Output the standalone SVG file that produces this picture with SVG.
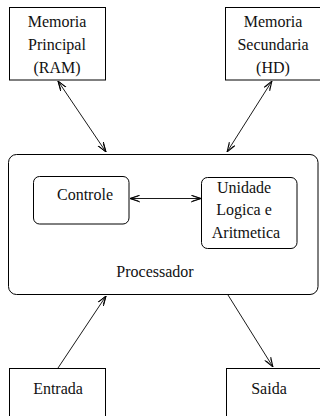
<svg xmlns="http://www.w3.org/2000/svg" width="320" height="416" viewBox="0 0 320 416" font-family="Liberation Serif, Times New Roman, DejaVu Serif, serif">
<style>
.box{fill:#fff;stroke:#000;stroke-width:1}
.t{font-size:16px;fill:#111;text-anchor:middle}
.c{stroke:#000;stroke-width:0.9;fill:none}
</style>
<defs>
<marker id="ah" viewBox="0 0 10 8" refX="10" refY="4" markerWidth="10" markerHeight="8" markerUnits="userSpaceOnUse" orient="auto-start-reverse">
<path d="M0,0.5 L10,4 L0,7.5 M1.5,1.5 L10,4 L1.5,6.5" fill="none" stroke="#000" stroke-width="0.9"/>
</marker>
</defs>
<rect width="320" height="416" fill="#fff"/>
<g id="ram"><rect class="box" x="9.5" y="7.5" width="96" height="72.5"/>
<text class="t" font-family="Liberation Serif, serif" x="57" y="27">Memoria</text><text class="t" font-family="Liberation Serif, serif" x="57" y="50">Principal</text><text class="t" font-family="Liberation Serif, serif" x="57" y="73">(RAM)</text></g>
<g id="hd"><rect class="box" x="225.5" y="7.5" width="96" height="72.5"/>
<text class="t" font-family="Liberation Serif, serif" x="273" y="27">Memoria</text><text class="t" font-family="Liberation Serif, serif" x="273" y="50">Secundaria</text><text class="t" font-family="Liberation Serif, serif" x="273" y="73">(HD)</text></g>
<g id="processador"><rect class="box" x="8.5" y="154.5" width="309.5" height="140" rx="8"/>
<text class="t" font-family="Liberation Serif, serif" x="155" y="277">Processador</text></g>
<g id="controle"><rect class="box" x="33.5" y="176.5" width="95.5" height="47.5" rx="6"/>
<text class="t" font-family="Liberation Serif, serif" x="85" y="200">Controle</text></g>
<g id="ula"><rect class="box" x="201.5" y="177.5" width="95.5" height="71" rx="6"/>
<text class="t" font-family="Liberation Serif, serif" x="244" y="193">Unidade</text><text class="t" font-family="Liberation Serif, serif" x="244" y="215">Logica e</text><text class="t" font-family="Liberation Serif, serif" x="246" y="238">Aritmetica</text></g>
<g id="entrada"><rect class="box" x="9.5" y="368.5" width="96" height="60"/>
<text class="t" font-family="Liberation Serif, serif" x="58" y="394">Entrada</text></g>
<g id="saida"><rect class="box" x="226.5" y="368.5" width="96" height="60"/>
<text class="t" font-family="Liberation Serif, serif" x="269" y="394">Saida</text></g>
<g id="connectors">
<line class="c" x1="58" y1="81" x2="106" y2="152" marker-start="url(#ah)" marker-end="url(#ah)"/>
<line class="c" x1="272" y1="81" x2="227" y2="152" marker-start="url(#ah)" marker-end="url(#ah)"/>
<line class="c" x1="130" y1="198.5" x2="201" y2="198.5" marker-start="url(#ah)" marker-end="url(#ah)"/>
<line class="c" x1="58" y1="368" x2="106" y2="296" marker-end="url(#ah)"/>
<line class="c" x1="228" y1="295" x2="273" y2="367" marker-end="url(#ah)"/>
</g>
</svg>
